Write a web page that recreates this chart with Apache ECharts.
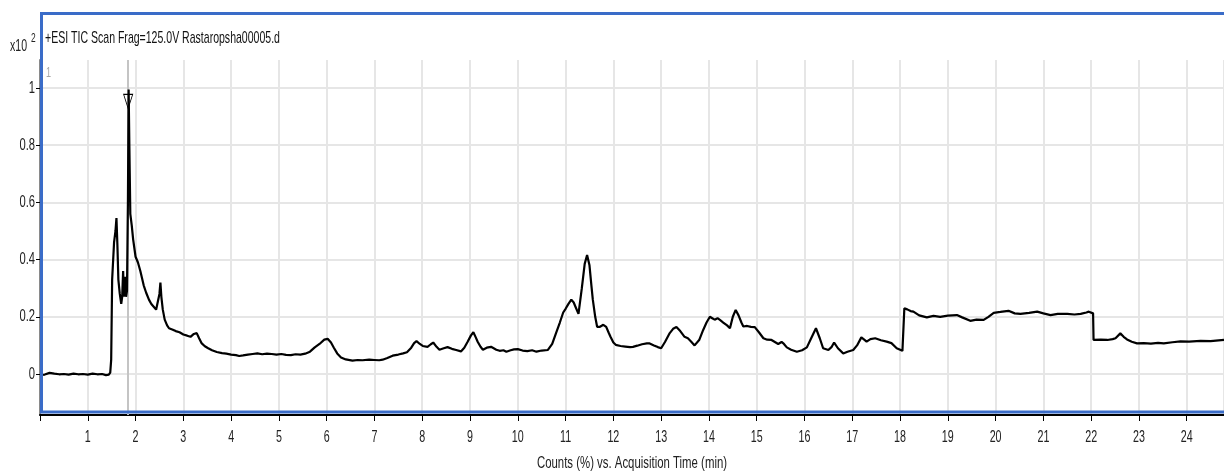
<!DOCTYPE html>
<html>
<head>
<meta charset="utf-8">
<script src="https://cdn.jsdelivr.net/npm/echarts@6/dist/echarts.min.js"></script>
<style>
html,body{margin:0;padding:0;background:#fff;}
#c{width:1224px;height:473px;}
</style>
</head>
<body>
<div id="c"></div>
<script>
const titleText = '+ESI TIC Scan Frag=125.0V Rastaropsha00005.d';
const xAxisTitle = 'Counts (%) vs. Acquisition Time (min)';
const yTickValues = [0, 0.2, 0.4, 0.6, 0.8, 1];
const yTickLabels = ['0', '0.2', '0.4', '0.6', '0.8', '1'];
const xTickValues = [1,2,3,4,5,6,7,8,9,10,11,12,13,14,15,16,17,18,19,20,21,22,23,24];
const xTickLabels = ['1','2','3','4','5','6','7','8','9','10','11','12','13','14','15','16','17','18','19','20','21','22','23','24'];
const cursorTime = 1.845;

const times = [
0.00,0.10,0.20,0.30,0.40,0.50,0.60,0.70,0.80,0.90,1.00,1.10,1.20,1.30,1.38,1.44,1.47,1.49,1.51,1.55,1.58,1.60,1.62,1.64,1.67,1.70,1.72,1.74,1.75,1.76,1.78,1.80,1.82,1.84,1.855,1.87,1.89,1.92,1.95,2.00,2.05,2.10,2.17,2.22,2.28,2.33,2.38,2.43,2.47,2.50,2.52,2.54,2.57,2.61,2.66,2.70,2.78,2.84,2.92,3.00,3.08,3.15,3.22,3.28,3.33,3.38,3.45,3.52,3.60,3.70,3.81,3.90,4.00,4.10,4.17,4.25,4.35,4.45,4.55,4.65,4.75,4.85,4.95,5.05,5.15,5.25,5.35,5.45,5.55,5.65,5.75,5.85,5.95,6.02,6.09,6.15,6.22,6.30,6.40,6.54,6.65,6.75,6.89,7.00,7.10,7.17,7.27,7.38,7.50,7.60,7.68,7.77,7.83,7.88,7.95,8.01,8.11,8.18,8.23,8.30,8.36,8.45,8.53,8.62,8.71,8.81,8.88,8.95,9.02,9.07,9.12,9.16,9.22,9.27,9.35,9.44,9.55,9.62,9.70,9.76,9.85,9.92,10.00,10.10,10.20,10.30,10.39,10.50,10.63,10.72,10.80,10.88,10.95,11.00,11.06,11.12,11.17,11.22,11.27,11.30,11.34,11.40,11.45,11.50,11.54,11.57,11.62,11.66,11.72,11.79,11.85,11.90,11.94,12.00,12.05,12.15,12.25,12.35,12.41,12.50,12.60,12.70,12.76,12.85,12.93,13.00,13.08,13.18,13.25,13.32,13.40,13.49,13.56,13.63,13.70,13.74,13.80,13.88,13.95,14.02,14.07,14.12,14.18,14.23,14.30,14.38,14.44,14.50,14.56,14.62,14.68,14.72,14.80,14.88,14.96,15.05,15.14,15.22,15.31,15.38,15.45,15.52,15.57,15.63,15.72,15.84,15.95,16.05,16.14,16.24,16.32,16.39,16.50,16.57,16.62,16.70,16.81,16.90,17.02,17.10,17.19,17.25,17.30,17.38,17.48,17.60,17.72,17.82,17.93,18.05,18.08,18.09,18.15,18.22,18.28,18.40,18.56,18.70,18.84,19.00,19.19,19.30,19.47,19.60,19.75,19.85,19.96,20.10,20.27,20.40,20.52,20.70,20.87,21.00,21.15,21.30,21.50,21.65,21.78,21.90,21.95,22.04,22.05,22.20,22.34,22.45,22.51,22.61,22.68,22.75,22.85,22.96,23.10,23.25,23.40,23.52,23.70,23.87,24.05,24.29,24.50,24.78
];
const counts = [
-0.003,-0.002,0.004,0.001,-0.001,0.000,-0.002,0.001,-0.001,0.000,-0.002,0.001,-0.001,0.000,-0.004,-0.002,0.005,0.05,0.33,0.46,0.50,0.545,0.45,0.33,0.28,0.245,0.27,0.36,0.30,0.27,0.34,0.27,0.29,0.60,0.995,0.80,0.56,0.52,0.47,0.41,0.39,0.36,0.31,0.285,0.26,0.245,0.235,0.225,0.22,0.28,0.32,0.27,0.225,0.19,0.17,0.16,0.155,0.15,0.146,0.138,0.134,0.13,0.14,0.143,0.125,0.108,0.097,0.09,0.083,0.077,0.073,0.071,0.068,0.066,0.063,0.065,0.068,0.070,0.072,0.069,0.071,0.070,0.068,0.070,0.067,0.066,0.069,0.068,0.071,0.078,0.093,0.105,0.120,0.123,0.110,0.092,0.072,0.058,0.051,0.047,0.049,0.048,0.050,0.049,0.048,0.050,0.056,0.064,0.068,0.072,0.076,0.092,0.108,0.115,0.105,0.098,0.095,0.104,0.110,0.095,0.085,0.09,0.094,0.088,0.084,0.079,0.092,0.113,0.135,0.146,0.128,0.113,0.095,0.085,0.092,0.095,0.085,0.081,0.083,0.078,0.083,0.086,0.087,0.082,0.080,0.083,0.078,0.082,0.084,0.105,0.143,0.18,0.215,0.228,0.245,0.26,0.25,0.23,0.21,0.206,0.30,0.385,0.416,0.38,0.31,0.26,0.20,0.165,0.165,0.172,0.165,0.145,0.13,0.11,0.102,0.098,0.096,0.094,0.095,0.099,0.104,0.107,0.107,0.100,0.094,0.090,0.112,0.143,0.158,0.164,0.150,0.130,0.125,0.113,0.100,0.095,0.12,0.154,0.18,0.20,0.195,0.19,0.195,0.189,0.18,0.17,0.16,0.20,0.224,0.205,0.18,0.166,0.168,0.165,0.164,0.145,0.125,0.12,0.119,0.112,0.105,0.112,0.105,0.093,0.085,0.078,0.083,0.093,0.125,0.16,0.125,0.09,0.084,0.095,0.11,0.09,0.072,0.078,0.084,0.10,0.128,0.12,0.113,0.122,0.125,0.118,0.113,0.108,0.09,0.081,0.082,0.23,0.226,0.22,0.218,0.205,0.198,0.203,0.2,0.204,0.206,0.198,0.186,0.19,0.189,0.20,0.214,0.217,0.221,0.212,0.21,0.214,0.218,0.212,0.206,0.21,0.21,0.208,0.21,0.215,0.218,0.212,0.119,0.12,0.119,0.122,0.125,0.142,0.13,0.121,0.113,0.107,0.108,0.106,0.109,0.107,0.111,0.114,0.113,0.116,0.115,0.119
];

const FONT = '"Liberation Sans", Arial, sans-serif';
const data = times.map((t, i) => [t, counts[i]]);

const chart = echarts.init(document.getElementById('c'), null, {renderer: 'canvas'});
chart.setOption({
  animation: false,
  backgroundColor: '#ffffff',
  grid: {left: 40, right: 0, top: 60, bottom: 58, containLabel: false},
  xAxis: {
    type: 'value',
    min: 0,
    max: 24.78,
    interval: 1,
    axisLine: {show: true, onZero: false, lineStyle: {color: '#000', width: 2}},
    axisTick: {show: true, length: 6, lineStyle: {color: '#000', width: 1}},
    axisLabel: {show: false},
    splitLine: {show: true, lineStyle: {color: '#e6e6e6', width: 2}}
  },
  yAxis: {
    type: 'value',
    min: -0.1434,
    max: 1.098,
    axisLine: {show: true, onZero: false, lineStyle: {color: '#8a8a8a', width: 2}},
    axisTick: {show: true, length: 4, customValues: yTickValues, lineStyle: {color: '#000', width: 1}},
    axisLabel: {show: false, customValues: yTickValues},
    splitLine: {show: true, lineStyle: {color: '#e6e6e6', width: 2}}
  },
  series: [{
    type: 'line',
    data: data,
    showSymbol: false,
    symbol: 'none',
    lineStyle: {color: '#000', width: 2.2},
    z: 5,
    markLine: {
      silent: true,
      symbol: ['none', 'none'],
      label: {show: false},
      lineStyle: {color: '#c4c4c4', width: 2, type: 'solid'},
      data: [{xAxis: cursorTime}],
      z: 3
    },
    markPoint: {
      silent: true,
      symbol: 'triangle',
      symbolRotate: 180,
      symbolSize: [9, 14],
      itemStyle: {color: 'rgba(255,255,255,0)', borderColor: '#000', borderWidth: 1},
      label: {show: false},
      data: [{coord: [cursorTime, 0.953]}]
    }
  }]
});

function txt(text, x, y, size, sx, align, fill) {
  return {
    type: 'text', z: 101, silent: true, x: x, y: y, scaleX: sx, scaleY: 1,
    style: {text: text, x: 0, y: 0, font: size + 'px ' + FONT, fill: fill || '#1a1a1a',
            textAlign: align, textVerticalAlign: 'middle'}
  };
}

const graphics = [
  {type: 'rect', z: 100, silent: true,
    shape: {x: 41.5, y: 13.5, width: 1200, height: 398.5},
    style: {fill: 'none', stroke: '#3a6cc8', lineWidth: 3}},
  txt(titleText, 45, 38, 17, 0.62, 'left', '#111'),
  txt('x10', 10, 46, 17, 0.62, 'left', '#222'),
  txt('2', 31, 39, 12, 0.7, 'left', '#222'),
  txt('1', 46, 73, 14, 0.65, 'left', '#a8a8a8'),
  txt(xAxisTitle, 632, 463, 17, 0.67, 'center', '#222')
];
xTickValues.forEach((v, i) => {
  const p = chart.convertToPixel({gridIndex: 0}, [v, 0]);
  graphics.push(txt(xTickLabels[i], p[0], 437, 17, 0.63, 'center', '#222'));
});
yTickValues.forEach((v, i) => {
  const p = chart.convertToPixel({gridIndex: 0}, [0, v]);
  graphics.push(txt(yTickLabels[i], 35, p[1], 17, 0.66, 'right', '#222'));
});
chart.setOption({graphic: graphics});
</script>
</body>
</html>
